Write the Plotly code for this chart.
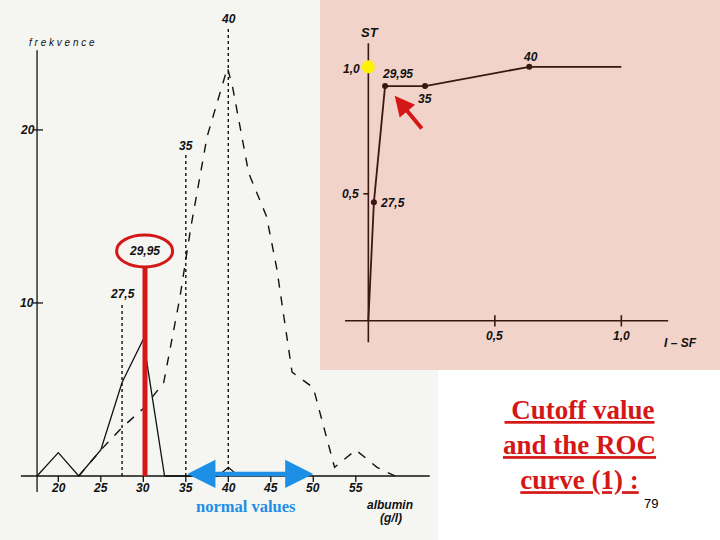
import plotly.graph_objects as go

# left chart: albumin distribution (sick = solid, healthy = dashed)
sick_x = [17.5, 20, 22.4, 25, 27.5, 30, 32.5, 38.8, 40, 41.2]
sick_y = [0, 1.35, 0, 1.5, 5.4, 7.9, 0, 0, 0.5, 0]
healthy_x = [22.4, 25, 27.5, 30, 32.4, 34.3, 35.6, 37.5, 39.9, 40.5, 42.4, 44.5, 45.7, 47.5, 50, 52.5, 55, 57.5, 59.6]
healthy_y = [0, 1.5, 2.8, 3.9, 5.4, 10.3, 14.4, 19.6, 23.6, 22.5, 17.5, 15.0, 12.0, 6.0, 5.1, 0.5, 1.5, 0.5, 0]
cut_x = [27.5, 35, 40]
cut_top = [10.0, 18.55, 25.9]
cut_labels = ['27,5', '35', '40']
x_ticks = [20, 25, 30, 35, 40, 45, 50, 55]
y_ticks = [10, 20]
cutoff = 30.2

# right chart: ROC curve
roc_fpr = [0, 0.022, 0.066, 0.224, 0.636, 1.0]
roc_tpr = [0, 0.467, 0.924, 0.924, 1.0, 1.0]
roc_labels = ['', '27,5', '29,95', '35', '40', '']
roc_ticks = [0.5, 1.0]
roc_tick_labels = ['0,5', '1,0']

ink = '#111111'
roc_ink = '#3a1712'
red = '#d41818'
blue = '#1e8fe6'
lbl = dict(family='Liberation Sans', size=12, color=ink, style='italic', weight='bold')

fig = go.Figure()

# ---- left chart
fig.add_trace(go.Scatter(x=healthy_x, y=healthy_y, mode='lines',
                         line=dict(color=ink, width=1.4, dash='dash'), xaxis='x', yaxis='y'))
fig.add_trace(go.Scatter(x=sick_x, y=sick_y, mode='lines',
                         line=dict(color=ink, width=1.3), xaxis='x', yaxis='y'))
for cx, ct in zip(cut_x, cut_top):
    fig.add_trace(go.Scatter(x=[cx, cx], y=[0, ct], mode='lines',
                             line=dict(color=ink, width=1.4, dash='dot'), xaxis='x', yaxis='y'))
# axes
fig.add_trace(go.Scatter(x=[15.6, 63.7], y=[0, 0], mode='lines', line=dict(color=ink, width=1.3)))
fig.add_trace(go.Scatter(x=[17.5, 17.5], y=[-0.93, 24.6], mode='lines', line=dict(color=ink, width=1.3)))
for t in x_ticks:
    fig.add_trace(go.Scatter(x=[t, t], y=[0, -0.35], mode='lines', line=dict(color=ink, width=1.3)))
for t in y_ticks:
    fig.add_trace(go.Scatter(x=[17.0, 18.2], y=[t, t], mode='lines', line=dict(color=ink, width=1.3)))
# cutoff bar
fig.add_trace(go.Scatter(x=[cutoff, cutoff], y=[0, 12.1], mode='lines', line=dict(color=red, width=5)))

# ---- ROC chart
fig.add_trace(go.Scatter(x=[0, 0], y=[-0.084, 1.093], mode='lines',
                         line=dict(color=roc_ink, width=1.6), xaxis='x2', yaxis='y2'))
fig.add_trace(go.Scatter(x=[-0.092, 1.185], y=[0, 0], mode='lines',
                         line=dict(color=roc_ink, width=1.6), xaxis='x2', yaxis='y2'))
for t in roc_ticks:
    fig.add_trace(go.Scatter(x=[t, t], y=[-0.022, 0.022], mode='lines',
                             line=dict(color=roc_ink, width=1.6), xaxis='x2', yaxis='y2'))
fig.add_trace(go.Scatter(x=[-0.02, 0.0], y=[0.5, 0.5], mode='lines',
                         line=dict(color=roc_ink, width=1.6), xaxis='x2', yaxis='y2'))
fig.add_trace(go.Scatter(x=roc_fpr, y=roc_tpr, mode='lines',
                         line=dict(color=roc_ink, width=1.8), xaxis='x2', yaxis='y2'))
fig.add_trace(go.Scatter(x=roc_fpr[1:5], y=roc_tpr[1:5], mode='markers',
                         marker=dict(color=roc_ink, size=6), xaxis='x2', yaxis='y2'))
fig.add_trace(go.Scatter(x=[0], y=[1.0], mode='markers',
                         marker=dict(color='#fff200', size=13), xaxis='x2', yaxis='y2'))

ann = []
for t in x_ticks:
    ann.append(dict(x=t, y=-0.69, xref='x', yref='y', text=str(t), showarrow=False, font=lbl))
for t in y_ticks:
    ann.append(dict(x=16.35, y=t, xref='x', yref='y', text=str(t), showarrow=False, font=lbl))
for cx, ct, cl in zip(cut_x, cut_top, cut_labels):
    ann.append(dict(x=cx, y=ct + 0.5, xref='x', yref='y', text=cl, showarrow=False, font=lbl))
ann.append(dict(x=20.44, y=25.05, xref='x', yref='y', text='f r e k v e n c e', showarrow=False,
                font=dict(lbl, size=10, weight='normal')))
ann.append(dict(x=59.0, y=-1.68, xref='x', yref='y', text='albumin', showarrow=False, font=lbl))
ann.append(dict(x=59.2, y=-2.45, xref='x', yref='y', text='(g/l)', showarrow=False, font=lbl))
ann.append(dict(x=30.15, y=13.0, xref='x', yref='y', text='29,95', showarrow=False, font=lbl))
# normal values arrow
ann.append(dict(x=50.0, y=0.12, ax=35.0, ay=0.12, xref='x', yref='y', axref='x', ayref='y',
                text='', showarrow=True, arrowhead=2, arrowside='end+start', arrowsize=1.25,
                arrowwidth=4.5, arrowcolor=blue))
ann.append(dict(x=42.1, y=-1.75, xref='x', yref='y', text='<b>normal values</b>', showarrow=False,
                font=dict(family='Liberation Serif', size=16.5, color=blue)))

# ROC labels
ann.append(dict(x=0.007, y=1.137, xref='x2', yref='y2', text='ST', showarrow=False, font=dict(lbl, size=13)))
ann.append(dict(x=-0.066, y=0.99, xref='x2', yref='y2', text='1,0', showarrow=False, font=lbl))
ann.append(dict(x=-0.069, y=0.5, xref='x2', yref='y2', text='0,5', showarrow=False, font=lbl))
for t, tl in zip(roc_ticks, roc_tick_labels):
    ann.append(dict(x=t, y=-0.058, xref='x2', yref='y2', text=tl, showarrow=False, font=lbl))
ann.append(dict(x=1.232, y=-0.088, xref='x2', yref='y2', text='I – SF', showarrow=False, font=lbl))
offsets = {'27,5': (0.075, -0.004), '29,95': (0.05, 0.047), '35': (0.0, -0.05), '40': (0.004, 0.038)}
for fx, ty, rl in zip(roc_fpr, roc_tpr, roc_labels):
    if rl:
        dx, dy = offsets[rl]
        ann.append(dict(x=fx + dx, y=ty + dy, xref='x2', yref='y2', text=rl, showarrow=False, font=lbl))
ann.append(dict(x=0.104, y=0.886, ax=0.216, ay=0.751, xref='x2', yref='y2', axref='x2', ayref='y2',
                text='', showarrow=True, arrowhead=2, arrowsize=1.0, arrowwidth=4, arrowcolor=red))

# slide text
ann.append(dict(x=579 / 720, y=1 - 445 / 540, xref='paper', yref='paper', showarrow=False,
                xanchor='center', yanchor='middle',
                text='<u> Cutoff value</u><br><u>and the ROC</u><br><u>curve (1) :</u>',
                font=dict(family='Liberation Serif', size=27, color=red, weight='bold'), align='center'))
ann.append(dict(x=651 / 720, y=1 - 503 / 540, xref='paper', yref='paper', text='79', showarrow=False,
                xanchor='center', yanchor='middle',
                font=dict(family='Liberation Sans', size=13, color='#000000')))

shapes = [
    dict(type='rect', xref='paper', yref='paper', x0=0, x1=438 / 720, y0=0, y1=1,
         fillcolor='#f5f5f1', line_width=0, layer='below'),
    dict(type='rect', xref='paper', yref='paper', x0=320 / 720, x1=1, y0=1 - 370 / 540, y1=1,
         fillcolor='#f1d3c9', line_width=0, layer='below'),
    dict(type='circle', xref='x', yref='y', x0=26.86, x1=33.45, y0=12.08, y1=13.93,
         line=dict(color=red, width=3)),
]

fig.update_layout(
    width=720, height=540,
    margin=dict(l=0, r=0, t=0, b=0),
    paper_bgcolor='white', plot_bgcolor='rgba(0,0,0,0)',
    showlegend=False,
    xaxis=dict(domain=[0, 1], range=[13.14, 97.85], visible=False, fixedrange=True),
    yaxis=dict(domain=[0, 1], range=[-3.70, 27.51], visible=False, fixedrange=True),
    xaxis2=dict(domain=[0, 1], range=[-1.456, 1.390], visible=False, overlaying='x', anchor='y2'),
    yaxis2=dict(domain=[0, 1], range=[-0.863, 1.263], visible=False, overlaying='y', anchor='x2'),
    annotations=ann,
    shapes=shapes,
)

# drop the default page margin so the figure sits at the window's top-left corner
fig.write_html("out.html", config={'displayModeBar': False},
               post_script="document.body.style.margin='0';")
